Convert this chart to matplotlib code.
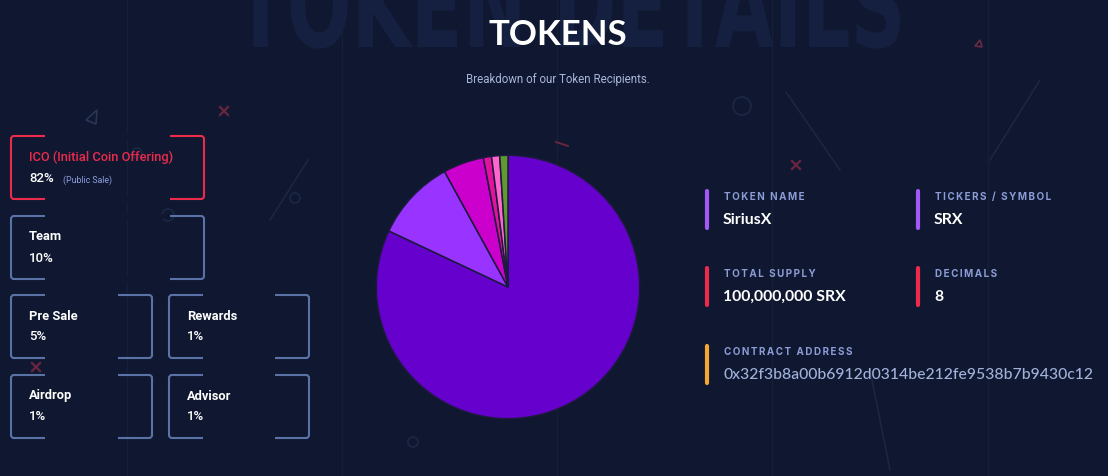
import matplotlib
matplotlib.use('Agg')
import matplotlib.pyplot as plt
from matplotlib.patches import FancyBboxPatch, Rectangle, Circle, Polygon, PathPatch
from matplotlib.textpath import TextPath
from matplotlib.font_manager import FontProperties
from matplotlib.transforms import Affine2D

# ---- data ----
labels = ['ICO (Initial Coin Offering)', 'Team', 'Pre Sale', 'Rewards', 'Airdrop', 'Advisor']
shares = [82, 10, 5, 1, 1, 1]
pie_colors = ['#6600cc', '#9933ff', '#cc00cc', '#e0129e', '#ff66cc', '#5f9a2e']

info_labels = ['TOKEN NAME', 'TICKERS / SYMBOL', 'TOTAL SUPPLY', 'DECIMALS', 'CONTRACT ADDRESS']
info_values = ['SiriusX', 'SRX', '100,000,000 SRX', '8',
               '0x32f3b8a00b6912d0314be212fe9538b7b9430c12']
info_colors = ['#a259f7', '#a259f7', '#ec2a4c', '#ec2a4c', '#f5a634']

bg = '#0f1830'
W, H = 1108, 476

fig = plt.figure(figsize=(W/100, H/100), dpi=100, facecolor=bg)
ax = fig.add_axes([0, 0, 1, 1])
ax.set_xlim(0, W)
ax.set_ylim(H, 0)
ax.axis('off')
ax.set_facecolor(bg)

# faint background grid + decorations
for gx in [127, 342, 557, 772, 988]:
    ax.plot([gx, gx], [0, H], color='#152038', lw=1, zorder=0)

# big watermark, squeezed horizontally to look like a condensed face
tp = TextPath((0, 0), 'TOKEN DETAILS', size=118,
              prop=FontProperties(family='DejaVu Sans', weight='bold'))
ext = tp.get_extents()
sx = 665 / ext.width
tr = Affine2D().translate(-ext.x0, 0).scale(sx, -1).translate(235, 47) + ax.transData
ax.add_patch(PathPatch(tp, fc='#152040', ec='none', transform=tr, zorder=0))

deco = '#1b2644'
for cx, cy, r in [(742, 106, 9), (168, 215, 6), (137, 153, 5), (413, 442, 5), (295, 198, 5)]:
    ax.add_patch(Circle((cx, cy), r, fill=False, ec=deco, lw=1.3, zorder=0))
for (x0, y0, x1, y1) in [(786, 92, 840, 170), (1040, 80, 990, 160),
                         (270, 220, 308, 160), (870, 370, 890, 470)]:
    ax.plot([x0, x1], [y0, y1], color=deco, lw=1.2, zorder=0)
ax.add_patch(Polygon([[86, 120], [97, 110], [96, 124]], closed=True, fill=False,
                     ec='#2a3656', lw=1.2, zorder=0))
ax.add_patch(Polygon([[975, 46], [980, 40], [982, 47]], closed=True, fill=False,
                     ec='#6a2a40', lw=1.2, zorder=0))
for (cx, cy) in [(224, 111), (796, 165), (36, 367)]:
    ax.plot([cx-4, cx+4], [cy-4, cy+4], color='#6a2540', lw=1.6, zorder=0)
    ax.plot([cx-4, cx+4], [cy+4, cy-4], color='#6a2540', lw=1.6, zorder=0)
ax.plot([556, 568], [142, 146], color='#6a2540', lw=1.4, zorder=0)

# title
ax.text(558, 35, 'TOKENS', ha='center', va='center', fontsize=25, fontweight='bold',
        color='white', family='Lato')
ax.text(558, 80, 'Breakdown of our Token Recipients.', ha='center', va='center',
        fontsize=8.3, color='#a9b6dc', family='Roboto')

# allocation boxes
boxes = [(11, 136, 204, 199), (11, 216, 204, 279), (11, 295, 152, 358),
         (169, 295, 309, 358), (11, 375, 152, 438), (169, 375, 309, 438)]
for i, (x0, y0, x1, y1) in enumerate(boxes):
    ec = '#ec2a4c' if i == 0 else '#5a72a6'
    ax.add_patch(FancyBboxPatch((x0, y0), x1-x0, y1-y0, boxstyle='round,pad=0,rounding_size=3',
                                fill=False, ec=ec, lw=1.5, zorder=2))
    for yy in (y0, y1):
        ax.add_patch(Rectangle((x0+34, yy-2.5), (x1-x0)-68, 5, fc=bg, ec='none', zorder=3))
    tcol = '#ec2a4c' if i == 0 else 'white'
    tw = 'medium' if i == 0 else 'bold'
    ax.text(x0+18, y0+21, labels[i], ha='left', va='center', fontsize=9.3,
            color=tcol, fontweight=tw, family='Roboto', zorder=4)
    ax.text(x0+18, y0+42, f'{shares[i]}%', ha='left', va='center', fontsize=9.5,
            color='white', fontweight='medium', family='Roboto', zorder=4)
ax.text(63, 180, '(Public Sale)', ha='left', va='center', fontsize=6.3,
        color='#8e9ee0', family='Roboto', zorder=4)

# token info
spots = [(707, 190), (918, 190), (707, 267), (918, 267), (707, 345)]
for (bx, by), lab, val, c in zip(spots, info_labels, info_values, info_colors):
    ax.plot([bx, bx], [by+1, by+38], color=c, lw=3, solid_capstyle='round')
    ax.text(bx+17, by+7, '\u2009'.join(lab), ha='left', va='center', fontsize=7.1,
            fontweight='bold', color='#8c9cd6', family=['Inter', 'DejaVu Sans'])
    addr = lab == 'CONTRACT ADDRESS'
    ax.text(bx+16, by+30, val, ha='left', va='center', fontsize=11.3,
            fontweight='medium' if addr else 'bold', color='#a0b1da' if addr else 'white',
            family=['Lato', 'DejaVu Sans'])

# pie
cx, cy, r = 508, 287, 133
pax = fig.add_axes([(cx-r)/W, (H-cy-r)/H, 2*r/W, 2*r/H])
pax.pie(shares, colors=pie_colors, startangle=90, counterclock=False,
        wedgeprops=dict(edgecolor='#1c1a3e', linewidth=1.1))
pax.set_xlim(-1.01, 1.01)
pax.set_ylim(-1.01, 1.01)
pax.axis('off')

fig.savefig('out.png', dpi=100, facecolor=bg)
